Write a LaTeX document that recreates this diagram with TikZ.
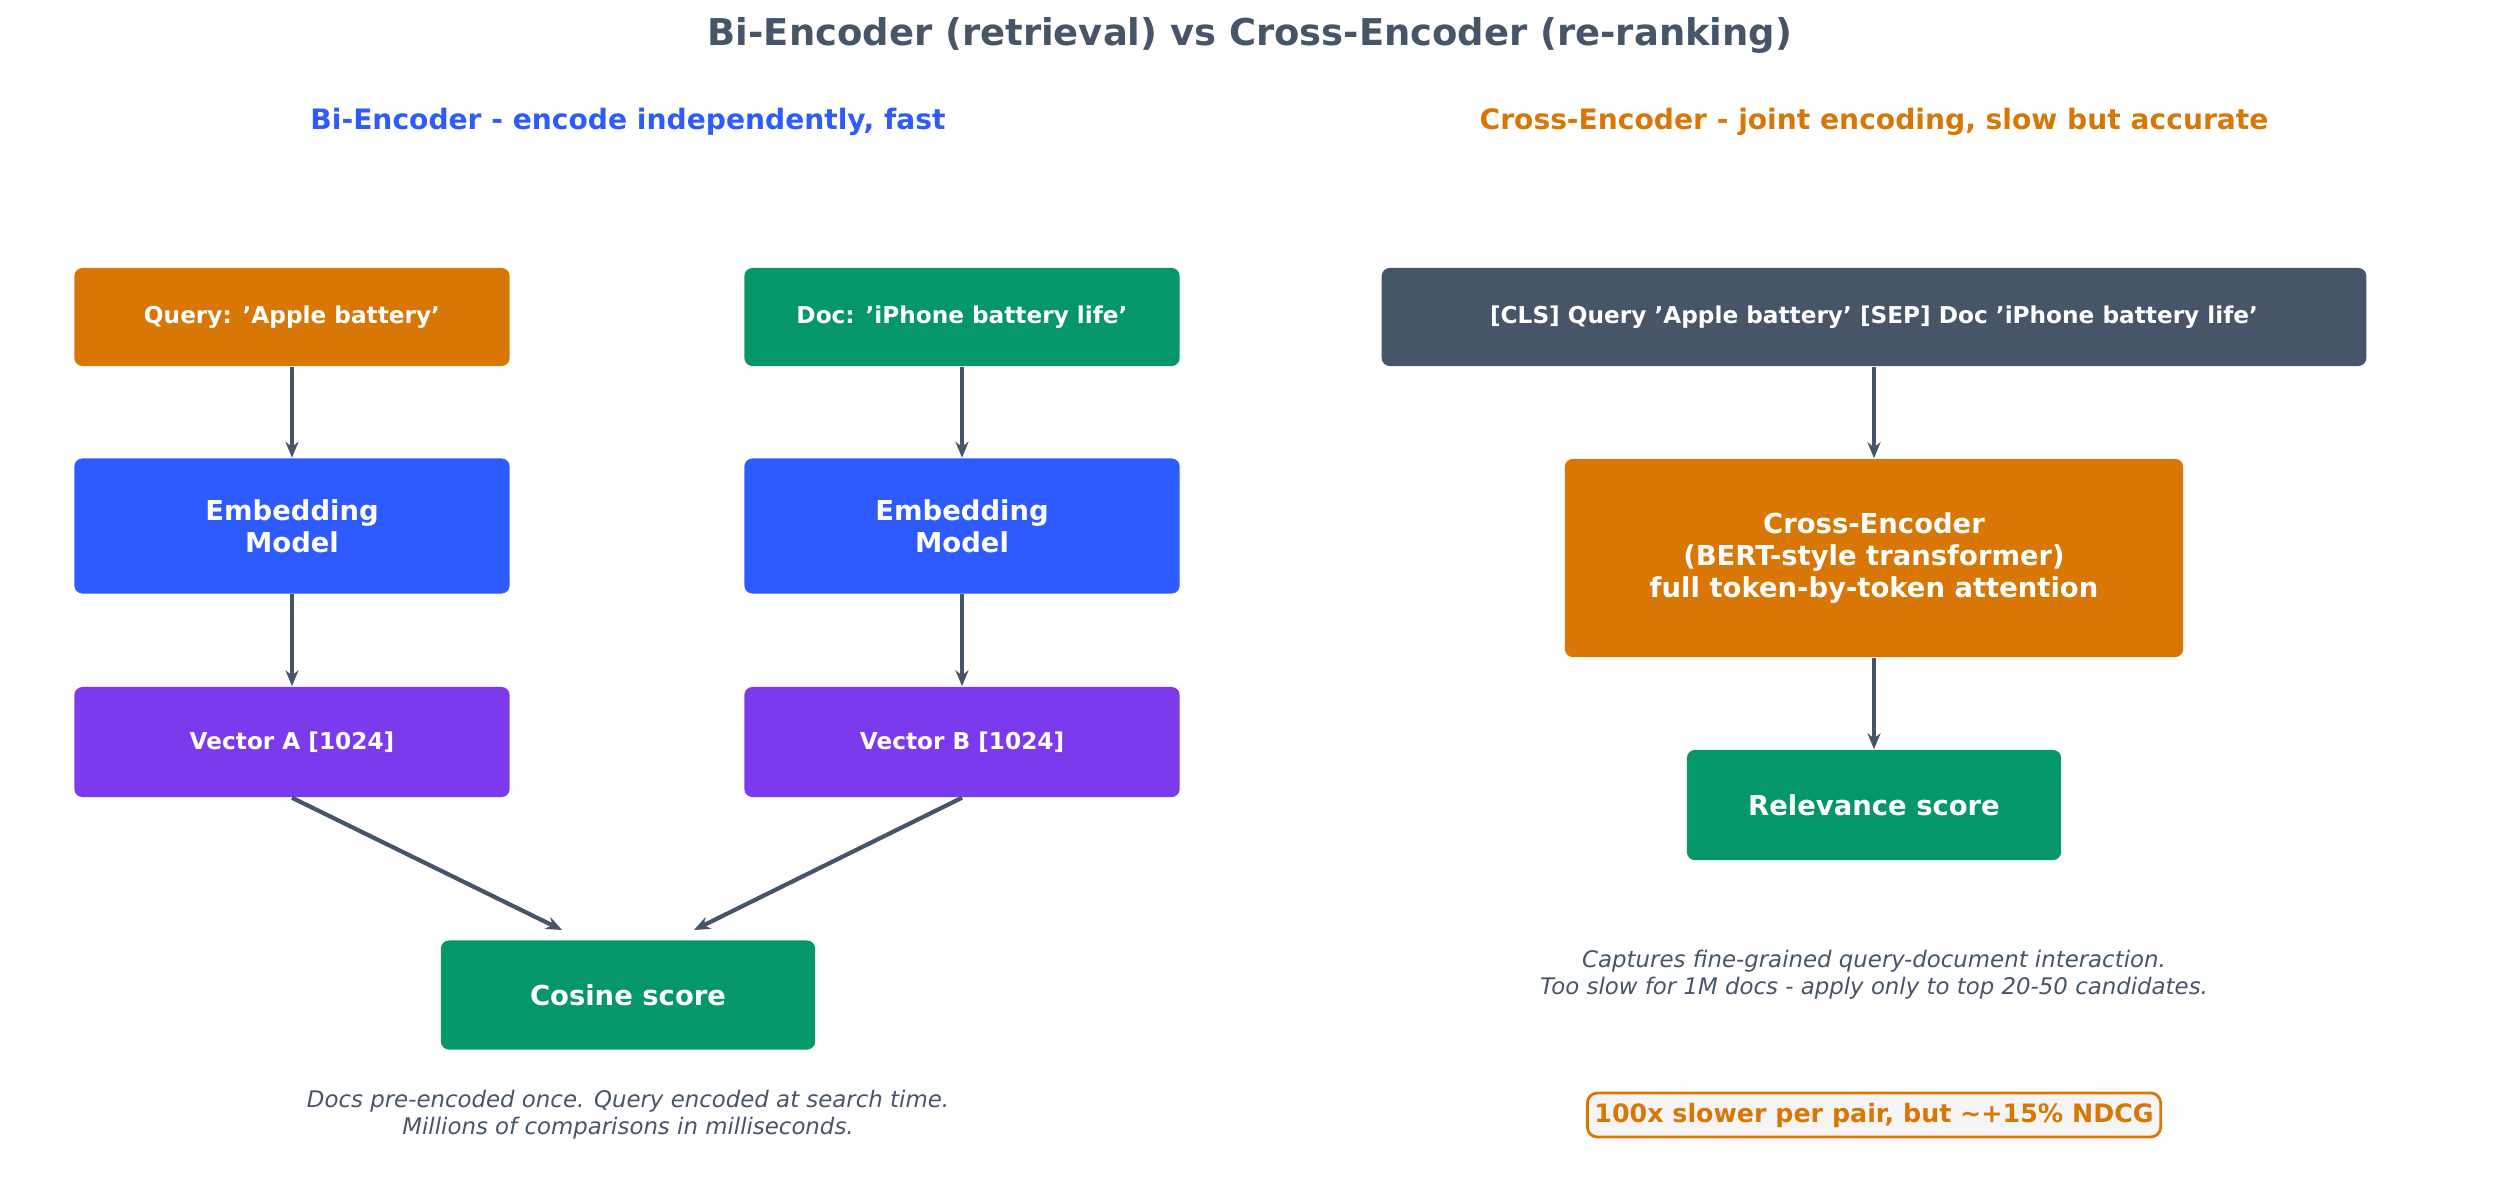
\documentclass[tikz,border=0pt]{standalone}
\usepackage{fontspec}
\setmainfont{DejaVu Sans}
\usetikzlibrary{arrows.meta}
\definecolor{cor}{HTML}{D97706}
\definecolor{cgr}{HTML}{059669}
\definecolor{cbl}{HTML}{2D5BFF}
\definecolor{cpu}{HTML}{7C3AED}
\definecolor{csl}{HTML}{475569}
\tikzset{
 box/.style={rounded corners=0.08cm, inner sep=0pt, text=white, font=\bfseries\fontsize{6.6}{8}\selectfont, align=center},
 big/.style={font=\bfseries\fontsize{7.8}{9.2}\selectfont},
 arr/.style={-{Stealth[length=0.16cm,width=0.13cm]}, line width=1.2pt, draw=csl},
 note/.style={font=\itshape\fontsize{6.5}{7.6}\selectfont, text=csl, align=center}
}
\newcommand{\bx}[6]{\node[box,#6,fill=#5,minimum width=#3*0.01cm-0.01cm, minimum height=#4*0.01cm] (#1) at (#2) {};}
\begin{document}
\begin{tikzpicture}[x=0.01cm,y=-0.01cm]
\useasboundingbox (0,0) rectangle (2501,1179);
\node[font=\bfseries\fontsize{10.5}{12}\selectfont, text=csl] (title) at (1250,35) {Bi-Encoder (retrieval) vs Cross-Encoder (re-ranking)};
\node[font=\bfseries\fontsize{8}{10}\selectfont, text=cbl] (s1) at (628,122) {Bi-Encoder - encode independently, fast};
\node[font=\bfseries\fontsize{8}{10}\selectfont, text=cor] (s2) at (1874,122) {Cross-Encoder - joint encoding, slow but accurate};
\node[box,fill=cor,minimum width=4.35cm,minimum height=0.98cm] (q) at (292,317) {Query: 'Apple battery'};
\node[box,fill=cgr,minimum width=4.35cm,minimum height=0.98cm] (d) at (962,317) {Doc: 'iPhone battery life'};
\node[box,big,fill=cbl,minimum width=4.35cm,minimum height=1.35cm] (e1) at (292,526) {Embedding\\Model};
\node[box,big,fill=cbl,minimum width=4.35cm,minimum height=1.35cm] (e2) at (962,526) {Embedding\\Model};
\node[box,fill=cpu,minimum width=4.35cm,minimum height=1.10cm] (v1) at (292,742) {Vector A [1024]};
\node[box,fill=cpu,minimum width=4.35cm,minimum height=1.10cm] (v2) at (962,742) {Vector B [1024]};
\node[box,big,fill=cgr,minimum width=3.74cm,minimum height=1.09cm] (cs) at (628,995) {Cosine score};
\coordinate (c1) at (562,930); \coordinate (c2) at (694,930);
\draw[arr] (q) -- (e1); \draw[arr] (d) -- (e2);
\draw[arr] (e1) -- (v1); \draw[arr] (e2) -- (v2);
\draw[arr] (v1.south) -- (c1); \draw[arr] (v2.south) -- (c2);
\node[note] (n1) at (628,1115) {Docs pre-encoded once. Query encoded at search time.\\Millions of comparisons in milliseconds.};
\node[box,fill=csl,minimum width=9.84cm,minimum height=0.98cm] (cls) at (1874,317) {[CLS] Query 'Apple battery' [SEP] Doc 'iPhone battery life'};
\node[box,big,fill=cor,minimum width=6.18cm,minimum height=1.98cm] (ce) at (1874,558) {Cross-Encoder\\(BERT-style transformer)\\full token-by-token attention};
\node[box,big,fill=cgr,minimum width=3.74cm,minimum height=1.10cm] (rs) at (1874,805) {Relevance score};
\draw[arr] (cls) -- (ce); \draw[arr] (ce) -- (rs);
\node[note] (n2) at (1874,975) {Captures fine-grained query-document interaction.\\Too slow for 1M docs - apply only to top 20-50 candidates.};
\node[draw=cor, line width=0.8pt, fill=gray!8, rounded corners=0.1cm, text=cor, font=\bfseries\fontsize{7.2}{9}\selectfont, minimum width=5.73cm, minimum height=0.44cm, inner sep=1pt] (bd) at (1874,1115) {100x slower per pair, but \textasciitilde+15\% NDCG};
\end{tikzpicture}
\end{document}
